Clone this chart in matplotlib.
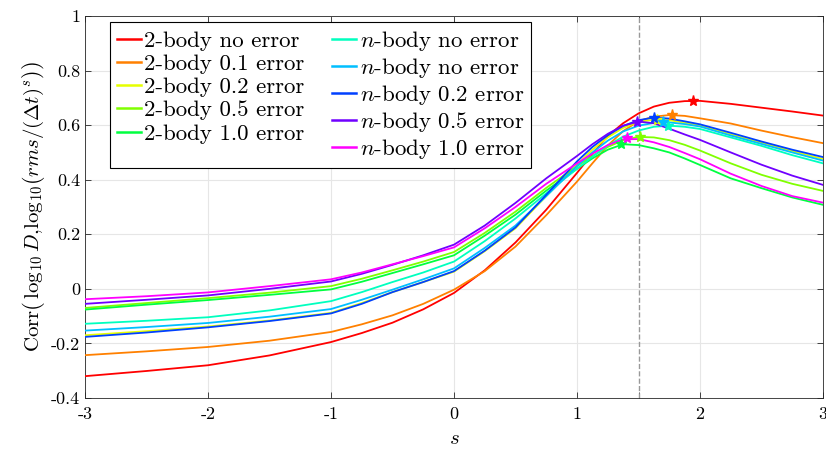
import numpy as np
import matplotlib
matplotlib.use("Agg")
import matplotlib.pyplot as plt

plt.rcParams['font.family'] = 'serif'
plt.rcParams['font.serif'] = ['cmr10', 'DejaVu Serif']
plt.rcParams['mathtext.fontset'] = 'cm'
plt.rcParams['axes.unicode_minus'] = False

s = [-3, -2.5, -2, -1.5, -1, -0.75, -0.5, -0.25, 0, 0.25, 0.5, 0.75, 1, 1.125, 1.25, 1.375,
     1.5, 1.625, 1.75, 1.875, 2, 2.25, 2.5, 2.75, 3]

labels = ["2-body no error", "2-body 0.1 error", "2-body 0.2 error", "2-body 0.5 error", "2-body 1.0 error",
          "$n$-body no error", "$n$-body no error", "$n$-body 0.2 error", "$n$-body 0.5 error", "$n$-body 1.0 error"]
colors = ["#ff0000", "#ff8000", "#e6ff00", "#80ff00", "#00ff40",
          "#00ffbf", "#00bfff", "#0040ff", "#7000ff", "#ff00ff"]

red     = [-0.320, -0.301, -0.280, -0.244, -0.195, -0.162, -0.124, -0.075, -0.015, 0.068, 0.170, 0.290, 0.425, 0.495, 0.560, 0.607,
           0.643, 0.668, 0.682, 0.688, 0.689, 0.678, 0.664, 0.650, 0.635]
orange  = [-0.243, -0.229, -0.213, -0.190, -0.158, -0.130, -0.097, -0.055, -0.003, 0.065, 0.155, 0.270, 0.393, 0.460, 0.525, 0.578,
           0.615, 0.631, 0.637, 0.634, 0.625, 0.606, 0.580, 0.556, 0.534]
yellow  = [-0.170, -0.155, -0.138, -0.116, -0.088, -0.052, -0.012, 0.025, 0.063, 0.138, 0.222, 0.340, 0.455, 0.510, 0.555, 0.590,
           0.612, 0.620, 0.618, 0.609, 0.598, 0.566, 0.535, 0.505, 0.476]
lime    = [-0.070, -0.052, -0.034, -0.014, 0.010, 0.037, 0.068, 0.100, 0.135, 0.205, 0.283, 0.370, 0.450, 0.487, 0.520, 0.545,
           0.557, 0.555, 0.545, 0.528, 0.507, 0.460, 0.418, 0.385, 0.359]
green   = [-0.076, -0.058, -0.041, -0.022, -0.002, 0.026, 0.058, 0.090, 0.123, 0.195, 0.272, 0.360, 0.440, 0.478, 0.510, 0.530,
           0.527, 0.515, 0.500, 0.478, 0.454, 0.405, 0.369, 0.335, 0.308]
teal    = [-0.128, -0.117, -0.104, -0.079, -0.045, -0.012, 0.025, 0.060, 0.100, 0.175, 0.258, 0.350, 0.440, 0.484, 0.525, 0.558,
           0.580, 0.594, 0.598, 0.594, 0.586, 0.555, 0.524, 0.490, 0.460]
ltblue  = [-0.153, -0.140, -0.125, -0.102, -0.074, -0.040, -0.003, 0.035, 0.075, 0.150, 0.232, 0.340, 0.450, 0.500, 0.543, 0.577,
           0.598, 0.608, 0.610, 0.604, 0.595, 0.562, 0.531, 0.500, 0.470]
blue    = [-0.176, -0.160, -0.141, -0.118, -0.090, -0.055, -0.012, 0.025, 0.065, 0.140, 0.225, 0.345, 0.467, 0.520, 0.563, 0.597,
           0.618, 0.628, 0.624, 0.614, 0.603, 0.572, 0.540, 0.510, 0.483]
purple  = [-0.055, -0.040, -0.024, 0.000, 0.027, 0.055, 0.088, 0.123, 0.162, 0.232, 0.315, 0.405, 0.487, 0.530, 0.568, 0.598,
           0.613, 0.607, 0.587, 0.566, 0.546, 0.500, 0.455, 0.415, 0.381]
magenta = [-0.038, -0.027, -0.013, 0.010, 0.035, 0.060, 0.090, 0.120, 0.152, 0.222, 0.300, 0.385, 0.460, 0.495, 0.527, 0.548,
           0.549, 0.537, 0.520, 0.498, 0.475, 0.422, 0.377, 0.340, 0.316]

series = [red, orange, yellow, lime, green, teal, ltblue, blue, purple, magenta]

peak_s = [1.94, 1.77, 1.65, 1.51, 1.36, 1.74, 1.70, 1.63, 1.49, 1.41]
peak_v = [0.689, 0.637, 0.620, 0.558, 0.530, 0.598, 0.610, 0.628, 0.613, 0.552]

x_ticks = [-3, -2, -1, 0, 1, 2, 3]
x_ticklabels = ['-3', '-2', '-1', '0', '1', '2', '3']
y_ticks = [-0.4, -0.2, 0, 0.2, 0.4, 0.6, 0.8, 1.0]
y_ticklabels = ['-0.4', '-0.2', '0', '0.2', '0.4', '0.6', '0.8', '1']
s_line = 1.5

fig = plt.figure(figsize=(8.26, 4.55), dpi=100)
ax = fig.add_axes([85/826, 1-398/455, (823-85)/826, (398-16)/455])

for vals, c, lab in zip(series, colors, labels):
    ax.plot(s, vals, color=c, lw=1.3, label=lab, zorder=3, solid_joinstyle='round')
for ps, pv, c in zip(peak_s, peak_v, colors):
    ax.plot([ps], [pv], marker='*', color=c, ms=8, zorder=4, linestyle='none')

ax.axvline(s_line, color='#999999', ls='--', lw=1.0, zorder=2)

ax.set_xlim(-3, 3)
ax.set_ylim(-0.4, 1.0)
ax.set_xticks(x_ticks)
ax.set_xticklabels(x_ticklabels)
ax.set_xticks([s_line], minor=True)
ax.set_yticks(y_ticks)
ax.set_yticklabels(y_ticklabels)
ax.tick_params(which='both', direction='in', top=True, right=True, labelsize=13, length=4, width=0.6, color='#262626')
ax.tick_params(axis='x', pad=6)
ax.grid(True, which='major', color='#e6e6e6', lw=0.8, zorder=0)
ax.set_axisbelow(True)
for sp in ax.spines.values():
    sp.set_color('#262626')
    sp.set_linewidth(0.6)

ax.set_xlabel('$s$', fontsize=15, labelpad=6)
ax.set_ylabel(r'$\mathrm{Corr}\left(\,\log_{10}D,\!\log_{10}\!\left(rms/(\Delta t)^{s}\right)\right)$', fontsize=15, labelpad=3)

leg = ax.legend(loc='upper left', bbox_to_anchor=(0.034, 0.985), borderaxespad=0, ncol=2,
                fontsize=16.5, handlelength=1.05, handletextpad=0.15, labelspacing=0.14,
                columnspacing=1.2, frameon=True, fancybox=False, framealpha=1, borderpad=0.3)
leg.get_frame().set_edgecolor('black')
leg.get_frame().set_linewidth(0.8)
for l in leg.get_lines():
    l.set_linewidth(1.8)

fig.savefig('out.png', dpi=100)
